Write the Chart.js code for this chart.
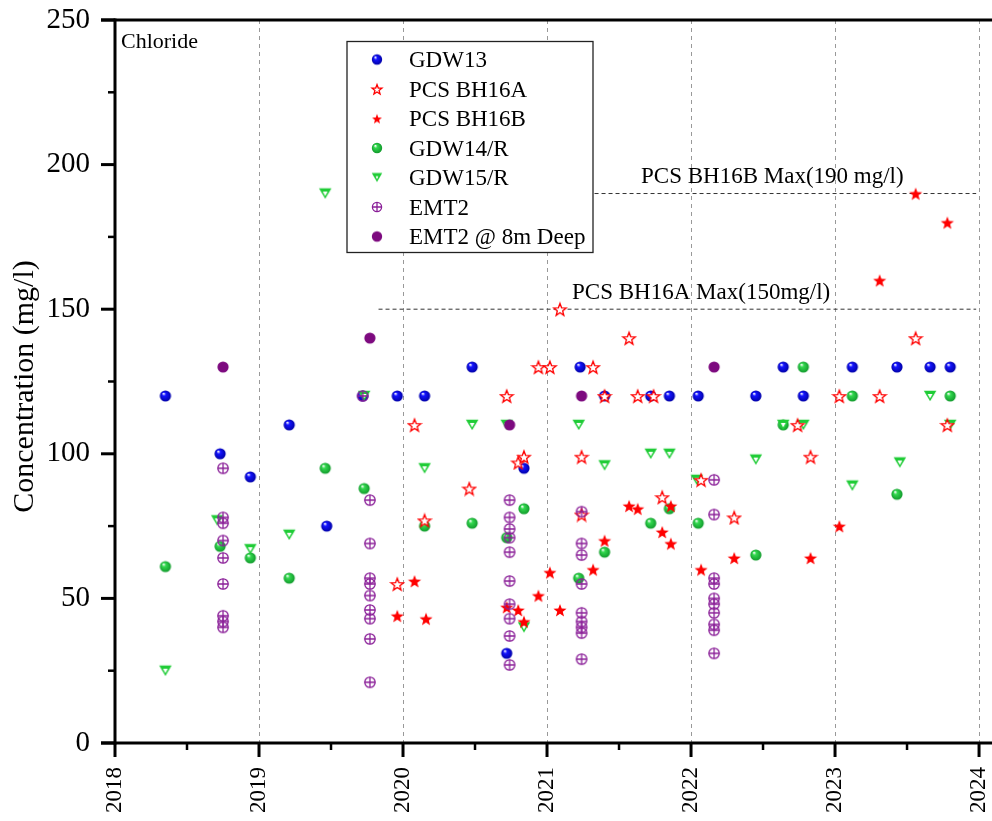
<!DOCTYPE html>
<html><head><meta charset="utf-8">
<script src="https://cdn.jsdelivr.net/npm/chart.js@4.4.1/dist/chart.umd.min.js"></script>
<style>html,body{margin:0;padding:0;background:#fff}#wrap{width:992px;height:821px;position:relative}</style>
</head><body><div id="wrap"><canvas id="c"></canvas></div>
<script>
// ---------- DATA ----------
const yearTicks = [2018, 2019, 2020, 2021, 2022, 2023, 2024];
const concTicks = [0, 50, 100, 150, 200, 250];

const gdw13X = [2018.35, 2018.73, 2018.94, 2019.21, 2019.47, 2019.72, 2019.96, 2020.15, 2020.48, 2020.72, 2020.84, 2021.23, 2021.40, 2021.72, 2021.85, 2022.05, 2022.45, 2022.64, 2022.78, 2023.12, 2023.43, 2023.66, 2023.80];
const gdw13Y = [120, 100, 92, 110, 75, 120, 120, 120, 130, 31, 95, 130, 120, 120, 120, 120, 120, 130, 120, 130, 130, 130, 130];

const bh16aX = [2019.96, 2020.08, 2020.15, 2020.46, 2020.72, 2020.80, 2020.84, 2020.94, 2021.02, 2021.09, 2021.24, 2021.24, 2021.32, 2021.40, 2021.57, 2021.63, 2021.74, 2021.80, 2022.07, 2022.30, 2022.74, 2022.83, 2023.03, 2023.31, 2023.56, 2023.78];
const bh16aY = [55, 110, 77, 88, 120, 97, 99, 130, 130, 150, 99, 79, 130, 120, 140, 120, 120, 85, 91, 78, 110, 99, 120, 120, 140, 110];

const bh16bX = [2019.96, 2020.08, 2020.16, 2020.72, 2020.80, 2020.84, 2020.94, 2021.02, 2021.09, 2021.32, 2021.40, 2021.57, 2021.63, 2021.80, 2021.86, 2021.86, 2022.07, 2022.30, 2022.83, 2023.03, 2023.31, 2023.56, 2023.78];
const bh16bY = [44, 56, 43, 47, 46, 42, 51, 59, 46, 60, 70, 82, 81, 73, 82, 69, 60, 64, 64, 75, 160, 190, 180];

const gdw14X = [2018.35, 2018.73, 2018.94, 2019.21, 2019.46, 2019.73, 2020.15, 2020.48, 2020.72, 2020.84, 2021.22, 2021.40, 2021.72, 2021.85, 2022.05, 2022.45, 2022.64, 2022.78, 2023.12, 2023.43, 2023.80];
const gdw14Y = [61, 68, 64, 57, 95, 88, 75, 76, 71, 81, 57, 66, 76, 81, 76, 65, 110, 130, 120, 86, 120];

const gdw15X = [2018.35, 2018.71, 2018.94, 2019.21, 2019.46, 2019.73, 2020.15, 2020.48, 2020.72, 2020.84, 2021.22, 2021.40, 2021.72, 2021.85, 2022.04, 2022.45, 2022.64, 2022.78, 2023.12, 2023.45, 2023.66, 2023.80];
const gdw15Y = [25, 77, 67, 72, 190, 120, 95, 110, 110, 40, 110, 96, 100, 100, 91, 98, 110, 110, 89, 97, 120, 110];

const emt2X = [2018.75, 2018.75, 2018.75, 2018.75, 2018.75, 2018.75, 2018.75, 2018.75, 2018.75,
  2019.72,
  2019.77, 2019.77, 2019.77, 2019.77, 2019.77, 2019.77, 2019.77, 2019.77, 2019.77,
  2020.74, 2020.74, 2020.74, 2020.74, 2020.74, 2020.74, 2020.74, 2020.74, 2020.74, 2020.74,
  2021.24, 2021.24, 2021.24, 2021.24, 2021.24, 2021.24, 2021.24, 2021.24, 2021.24,
  2022.16, 2022.16, 2022.16, 2022.16, 2022.16, 2022.16, 2022.16, 2022.16, 2022.16, 2022.16];
const emt2Y = [95, 78, 76, 70, 64, 55, 44, 42, 40,
  120,
  84, 69, 57, 55, 51, 46, 43, 36, 21,
  84, 78, 74, 71, 66, 56, 48, 43, 37, 27,
  80, 69, 65, 55, 45, 42, 40, 38, 29,
  91, 79, 57, 55, 50, 48, 45, 41, 39, 31];

const emt2DeepX = [2018.75, 2019.77, 2020.74, 2021.24, 2022.16];
const emt2DeepY = [130, 140, 110, 120, 130];

const limitLabels = ['PCS BH16B Max(190 mg/l)', 'PCS BH16A Max(150mg/l)'];
const limitValues = [190, 150];
const limitStart = [2021.33, 2019.83];
const limitEnd = [2023.98, 2023.98];

// ---------- MARKERS ----------
function makeCanvas(size, draw) {
  const c = document.createElement('canvas');
  c.width = size; c.height = size;
  draw(c.getContext('2d'), size / 2);
  return c;
}
function ball(base, dark, r) {
  return makeCanvas(14, (g, c) => {
    const gr = g.createRadialGradient(c - r * 0.35, c - r * 0.45, 0.3, c, c, r);
    gr.addColorStop(0, '#ffffff');
    gr.addColorStop(0.3, base);
    gr.addColorStop(1, dark);
    g.fillStyle = gr;
    g.beginPath(); g.arc(c, c, r, 0, Math.PI * 2); g.fill();
  });
}
function flat(color, r) {
  return makeCanvas(14, (g, c) => {
    g.fillStyle = color; g.beginPath(); g.arc(c, c, r, 0, Math.PI * 2); g.fill();
  });
}
function star(filled, R) {
  return makeCanvas(16, (g, c) => {
    g.beginPath();
    for (let i = 0; i < 10; i++) {
      const rr = i % 2 ? R * 0.42 : R;
      const a = -Math.PI / 2 + i * Math.PI / 5;
      g.lineTo(c + rr * Math.cos(a), c + 0.8 + rr * Math.sin(a));
    }
    g.closePath();
    if (filled) { g.fillStyle = '#ff0000'; g.fill(); }
    else { g.fillStyle = '#ffffff'; g.fill(); g.strokeStyle = '#ff0000'; g.lineWidth = 1.3; g.stroke(); }
  });
}
function triDown(w) {
  return makeCanvas(16, (g, c) => {
    const h = w * 0.85;
    g.fillStyle = '#1fcc36';
    g.beginPath(); g.moveTo(c - w / 2, c - h / 2); g.lineTo(c + w / 2, c - h / 2); g.lineTo(c, c + h / 2); g.closePath(); g.fill();
    g.fillStyle = '#ffffff';
    g.beginPath(); g.moveTo(c - w / 2 + 3.8, c - h / 2 + 3.2); g.lineTo(c + w / 2 - 3.8, c - h / 2 + 3.2); g.lineTo(c, c + h / 2 - 2.8); g.closePath(); g.fill();
  });
}
function circlePlus(r) {
  return makeCanvas(14, (g, c) => {
    g.strokeStyle = '#8a1f98'; g.lineWidth = 1.3;
    g.beginPath(); g.arc(c, c, r, 0, Math.PI * 2); g.stroke();
    g.beginPath(); g.moveTo(c - r, c); g.lineTo(c + r, c); g.moveTo(c, c - r); g.lineTo(c, c + r); g.stroke();
  });
}
const mkBlue = ball('#1414ff', '#0000a8', 5.6);
const mkGreen = ball('#33d94f', '#119a2c', 5.6);
const mkStarOpen = star(false, 6.6);
const mkStarFill = star(true, 6.9);
const mkTri = triDown(12.5);
const mkPlus = circlePlus(5.2);
const mkPurple = flat('#7d0a7f', 5.6);
const mkStarOpenS = star(false, 5.2);
const mkStarFillS = star(true, 5.2);
const mkBlueS = ball('#1414ff', '#0000a8', 5.2);
const mkGreenS = ball('#33d94f', '#119a2c', 5.2);
const mkTriS = triDown(10.5);
const mkPlusS = circlePlus(4.6);
const mkPurpleS = flat('#7d0a7f', 5.2);

const pts = (xs, ys) => xs.map((x, i) => ({ x: x, y: ys[i] }));

function series(label, xs, ys, marker, legendMarker, order) {
  return { label, data: pts(xs, ys), pointStyle: marker, pointRadius: 6, pointHoverRadius: 6,
    showLine: false, order, legendMarker };
}
const limitSets = limitValues.map((v, i) => ({
  type: 'line', label: limitLabels[i], isLimit: true,
  data: [{ x: limitStart[i], y: v }, { x: limitEnd[i], y: v }],
  borderColor: '#333333', borderWidth: 1, borderDash: [4, 3], pointRadius: 0, order: 20, fill: false
}));

const datasets = [
  series('GDW13', gdw13X, gdw13Y, mkBlue, mkBlueS, 7),
  series('PCS BH16A', bh16aX, bh16aY, mkStarOpen, mkStarOpenS, 3),
  series('PCS BH16B', bh16bX, bh16bY, mkStarFill, mkStarFillS, 2),
  series('GDW14/R', gdw14X, gdw14Y, mkGreen, mkGreenS, 6),
  series('GDW15/R', gdw15X, gdw15Y, mkTri, mkTriS, 5),
  series('EMT2', emt2X, emt2Y, mkPlus, mkPlusS, 1),
  series('EMT2 @ 8m Deep', emt2DeepX, emt2DeepY, mkPurple, mkPurpleS, 4),
  ...limitSets
];

const SERIF = "'Liberation Serif', 'Times New Roman', serif";

// ---------- DECORATION PLUGIN ----------
const decor = {
  id: 'decor',
  afterDraw(chart) {
    const { ctx, chartArea: a, scales: { x, y } } = chart;
    const right = chart.width;
    ctx.save();
    ctx.strokeStyle = '#000'; ctx.lineCap = 'butt';
    const line = (x1, y1, x2, y2) => { ctx.beginPath(); ctx.moveTo(x1, y1); ctx.lineTo(x2, y2); ctx.stroke(); };
    ctx.lineWidth = 3;
    line(a.left, a.top - 1.5, a.left, a.bottom + 1.5);
    line(a.left - 14, a.bottom, right, a.bottom);
    line(a.left - 14, a.top, right, a.top);
    // y ticks
    const yv = y.ticks.map(t => t.value);
    yv.forEach((v, i) => {
      const py = y.getPixelForValue(v);
      ctx.lineWidth = 3; line(a.left - 14, py, a.left, py);
      if (i < yv.length - 1) {
        const pm = y.getPixelForValue((v + yv[i + 1]) / 2);
        ctx.lineWidth = 2.5; line(a.left - 7, pm, a.left, pm);
      }
    });
    // x ticks
    const xv = x.ticks.map(t => t.value);
    xv.forEach((v, i) => {
      const px = x.getPixelForValue(v);
      ctx.lineWidth = 3; line(px, a.bottom, px, a.bottom + 14);
      if (i < xv.length - 1) {
        const pm = x.getPixelForValue((v + xv[i + 1]) / 2);
        ctx.lineWidth = 2.5; line(pm, a.bottom, pm, a.bottom + 7);
      }
    });
    // y axis title
    ctx.fillStyle = '#000';
    ctx.save();
    ctx.translate(a.left - 82, (a.top + a.bottom) / 2 + 5);
    ctx.rotate(-Math.PI / 2);
    ctx.font = '30px ' + SERIF;
    ctx.textAlign = 'center'; ctx.textBaseline = 'alphabetic';
    ctx.fillText('Concentration (mg/l)', 0, 0);
    ctx.restore();
    // chart label
    ctx.font = '22px ' + SERIF;
    ctx.textBaseline = 'alphabetic'; ctx.textAlign = 'left';
    ctx.fillText('Chloride', a.left + 6, a.top + 28);
    // limit labels
    ctx.font = '23px ' + SERIF;
    const labX = [2021.653, 2021.174];
    limitValues.forEach((v, i) => {
      ctx.fillText(limitLabels[i], x.getPixelForValue(labX[i]), y.getPixelForValue(v) - 10.5);
    });
    // legend
    const L = a.left + 232, T = a.top + 21.5, W = 246, H = 211;
    ctx.fillStyle = '#fff'; ctx.fillRect(L, T, W, H);
    ctx.strokeStyle = '#222'; ctx.lineWidth = 1.3; ctx.strokeRect(L, T, W, H);
    ctx.fillStyle = '#000'; ctx.font = '23px ' + SERIF;
    let row = 0;
    chart.data.datasets.forEach(ds => {
      if (ds.isLimit) return;
      const cy = T + 18 + row * 29.5;
      const m = ds.legendMarker;
      ctx.drawImage(m, L + 30 - m.width / 2, cy - m.height / 2);
      ctx.fillText(ds.label, L + 62, cy + 7.5);
      row++;
    });
    ctx.restore();
  }
};

new Chart(document.getElementById('c'), {
  type: 'scatter',
  data: { datasets },
  plugins: [decor],
  options: {
    responsive: true, maintainAspectRatio: false, animation: false, devicePixelRatio: 1,
    layout: { autoPadding: false, padding: { top: 20, right: 0, left: 0, bottom: 0 } },
    plugins: { legend: { display: false }, tooltip: { enabled: false } },
    scales: {
      x: {
        type: 'linear', min: 2018, max: 2024.09,
        afterBuildTicks: s => { s.ticks = yearTicks.map(v => ({ value: v })); },
        afterFit: s => { s.height = 78; s.paddingLeft = 0; s.paddingRight = 0; },
        ticks: { autoSkip: false, maxRotation: 90, minRotation: 90, padding: 24, color: '#000',
          font: { family: SERIF, size: 23 }, callback: v => String(v) },
        grid: { drawTicks: false, color: c => (c.tick && c.tick.value === yearTicks[0]) ? 'rgba(0,0,0,0)' : '#999999',
          lineWidth: 1 },
        border: { display: false, dash: [4, 4] }
      },
      y: {
        type: 'linear', min: 0, max: 250,
        afterBuildTicks: s => { s.ticks = concTicks.map(v => ({ value: v })); },
        afterFit: s => { s.width = 115; s.paddingTop = 0; s.paddingBottom = 0; },
        ticks: { padding: 25, color: '#000', font: { family: SERIF, size: 29 } },
        grid: { display: false, drawTicks: false },
        border: { display: false },
        title: { display: false }
      }
    }
  }
});
</script>
</body></html>
